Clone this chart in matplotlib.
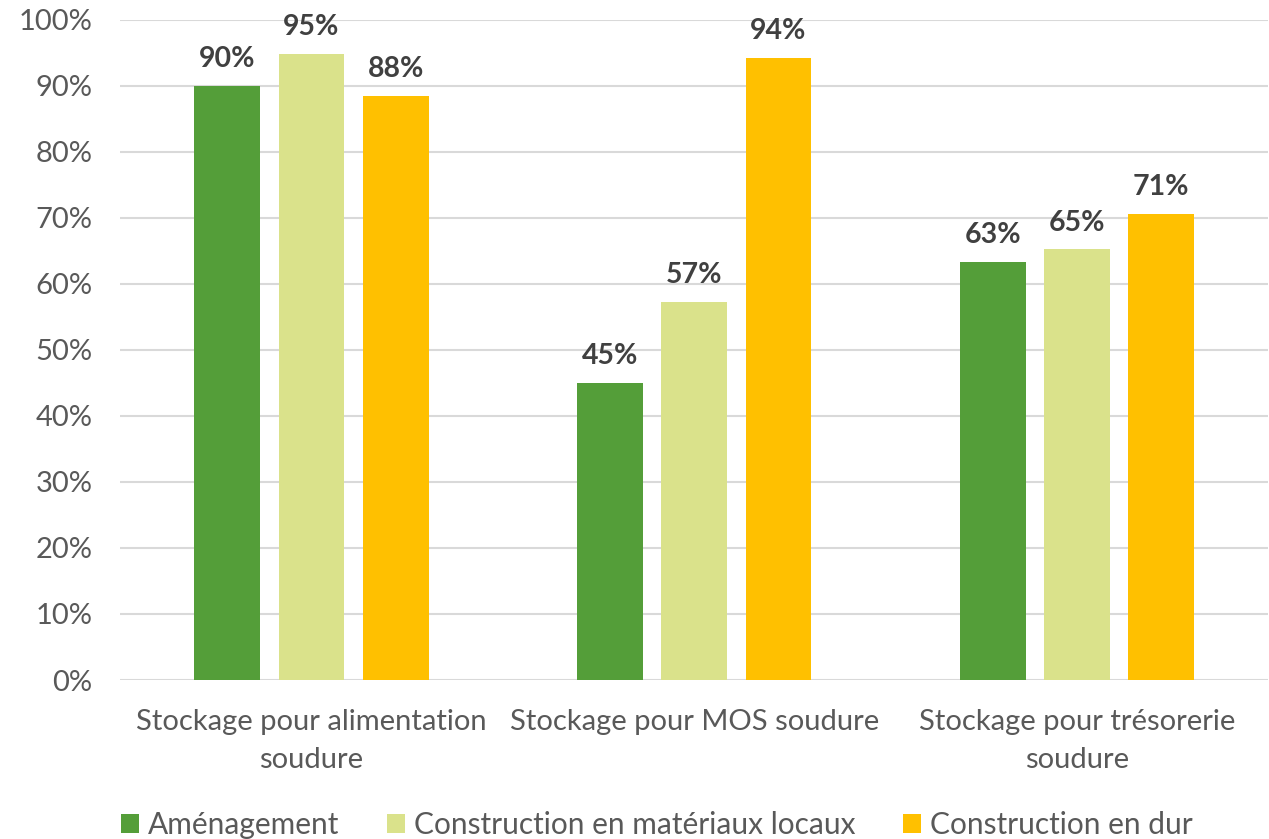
import numpy as np
import matplotlib
matplotlib.use('Agg')
import matplotlib.pyplot as plt
from matplotlib.patches import Patch

# catégories et séries
categories = ['Stockage pour alimentation\nsoudure',
              'Stockage pour MOS soudure',
              'Stockage pour trésorerie\nsoudure']
series = ['Aménagement', 'Construction en matériaux locaux', 'Construction en dur']
amenagement = [0.90, 0.45, 0.633]
materiaux_locaux = [0.948, 0.573, 0.652]
en_dur = [0.885, 0.942, 0.706]
labels_amenagement = ['90%', '45%', '63%']
labels_materiaux = ['95%', '57%', '65%']
labels_dur = ['88%', '94%', '71%']

colors = ['#549E39', '#DAE28B', '#FFC000']

plt.rcParams['font.family'] = ['Lato', 'DejaVu Sans']

fig = plt.figure(figsize=(12.69, 8.39), dpi=100)
ax = fig.add_axes([0.0946, 0.1895, 0.905, 0.787])

x = np.arange(len(categories))
width = 0.172
step = 0.22
data = [amenagement, materiaux_locaux, en_dur]
texts = [labels_amenagement, labels_materiaux, labels_dur]
for i, (vals, labs) in enumerate(zip(data, texts)):
    pos = x + (i - 1) * step
    ax.bar(pos, vals, width, color=colors[i], zorder=3)
    for p, v, t in zip(pos, vals, labs):
        ax.annotate(t, (p, v), xytext=(0, 10), textcoords='offset points',
                    ha='center', va='bottom', fontsize=20.5, fontweight='bold',
                    color='#404040')

ax.set_xlim(-0.5, 2.5)
ax.set_ylim(0, 1.0)
ax.set_yticks(np.arange(0, 1.01, 0.1))
ax.set_yticklabels([f'{int(round(v * 100))}%' for v in np.arange(0, 1.01, 0.1)])
ax.set_xticks(x)
ax.set_xticklabels(categories, linespacing=1.55)
ax.tick_params(axis='both', length=0, labelsize=21, labelcolor='#595959')
ax.tick_params(axis='x', pad=21)
ax.tick_params(axis='y', pad=20)
ax.grid(axis='y', color='#D9D9D9', linewidth=1.5, zorder=0)
for s in ax.spines.values():
    s.set_visible(False)

handles = [Patch(facecolor=c) for c in colors]
fig.legend(handles, series, loc='lower left', bbox_to_anchor=(0.074, -0.032),
           ncol=3, frameon=False, fontsize=21.5, handlelength=0.6, handleheight=0.6,
           handletextpad=0.3, columnspacing=1.6, labelcolor='#595959')

fig.savefig('out.png', dpi=100)
